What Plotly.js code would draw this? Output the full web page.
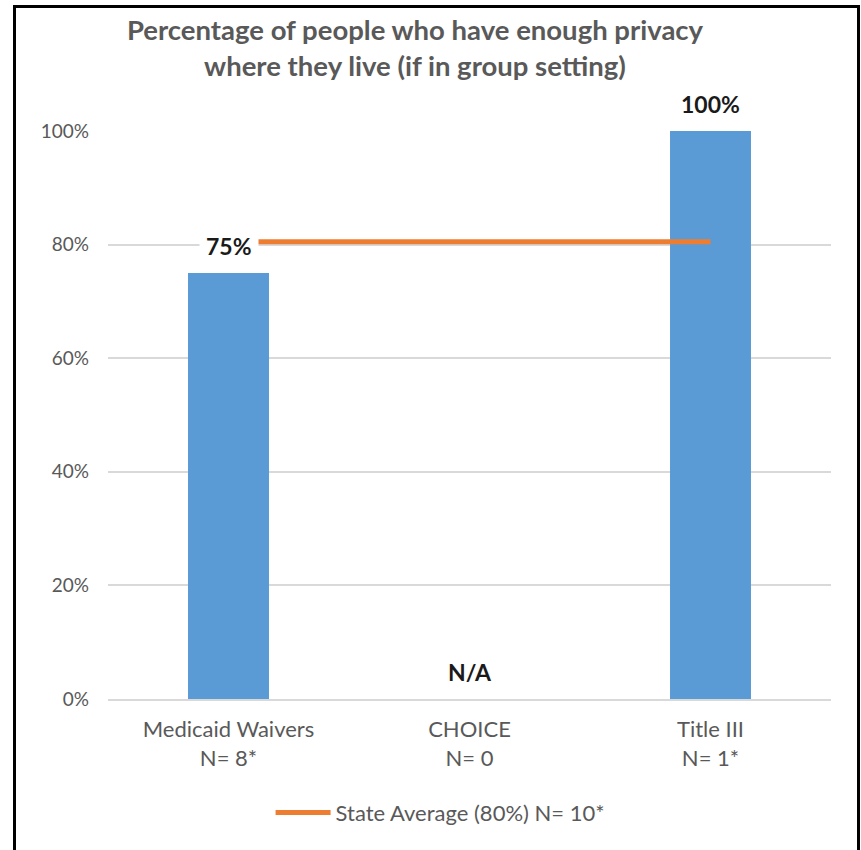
<!DOCTYPE html>
<html>
<head>
<meta charset="utf-8">
<script src="https://cdn.plot.ly/plotly-3.0.1.min.js"></script>
<style>
  html, body { margin: 0; padding: 0; background: #ffffff; }
  #chart { width: 861px; height: 850px; }
  #frame { position: absolute; left: 13px; top: 5px; width: 841px; height: 860px;
           border-left: 3px solid #000; border-top: 3px solid #000; border-right: 3px solid #000;
           pointer-events: none; }
</style>
</head>
<body>
<div id="chart"></div>
<div id="frame"></div>
<script>
const categories = ["Medicaid Waivers", "CHOICE", "Title III"];
const tickLabels = ["Medicaid Waivers<br>N= 8*", "CHOICE<br>N= 0", "Title III<br>N= 1*"];
const values = [0.75, null, 1.00];
const labelTexts = ["75%", "N/A", "100%"];
const stateAverage = [0.805, 0.805, 0.805];
const stateAverageName = "State Average (80%) N= 10*";
const chartTitle = "Percentage of people who have enough privacy<br>where they live (if in group setting)";

const FONT = "Lato, 'Noto Sans', sans-serif";
const GRAY = "#595959";

const traces = [
  {
    type: "bar",
    x: categories,
    y: values,
    marker: { color: "#5b9bd5" },
    showlegend: false,
    hoverinfo: "skip"
  },
  {
    type: "scatter",
    mode: "lines",
    x: categories,
    y: stateAverage,
    name: stateAverageName,
    line: { color: "#ed7d31", width: 5 },
    hoverinfo: "skip"
  }
];

const annotations = categories.map((c, i) => ({
  x: c,
  y: values[i] == null ? 0 : values[i],
  xref: "x",
  yref: "y",
  text: "<b>" + labelTexts[i] + "</b>",
  showarrow: false,
  yanchor: "middle",
  yshift: 27,
  font: { family: FONT, size: 23, color: "#1a1a1a" },
  bgcolor: i === 0 ? "#ffffff" : "rgba(0,0,0,0)",
  borderpad: i === 0 ? 6 : 0
}));

const layout = {
  width: 861,
  height: 850,
  margin: { l: 108, r: 30, t: 131, b: 151 },
  paper_bgcolor: "#ffffff",
  plot_bgcolor: "#ffffff",
  bargap: 0.664,
  font: { family: FONT, color: GRAY },
  title: {
    text: "<b>" + chartTitle + "</b>",
    font: { family: FONT, size: 27.5, color: GRAY },
    xref: "container",
    x: 0.482,
    xanchor: "center",
    yref: "container",
    y: 0.953,
    yanchor: "middle"
  },
  xaxis: {
    type: "category",
    tickmode: "array",
    tickvals: categories,
    ticktext: tickLabels,
    tickfont: { family: FONT, size: 22, color: GRAY },
    showgrid: false,
    showline: true,
    linecolor: "#d9d9d9",
    linewidth: 2,
    ticks: "",
    ticklabelstandoff: 10,
    fixedrange: true
  },
  yaxis: {
    range: [0, 1.0001],
    tickvals: [0, 0.2, 0.4, 0.6, 0.8, 1.0],
    tickformat: ".0%",
    tickfont: { family: FONT, size: 19, color: GRAY },
    showgrid: true,
    gridcolor: "#d9d9d9",
    gridwidth: 2,
    zeroline: false,
    showline: false,
    ticks: "",
    ticklabelstandoff: 18,
    fixedrange: true
  },
  showlegend: true,
  legend: {
    orientation: "h",
    x: 0.46,
    xanchor: "center",
    y: -0.2,
    yanchor: "middle",
    itemwidth: 55,
    font: { family: FONT, size: 22, color: GRAY },
    bgcolor: "rgba(0,0,0,0)"
  },
  annotations: annotations
};

Plotly.newPlot("chart", traces, layout, { displayModeBar: false, staticPlot: true });
</script>
</body>
</html>
